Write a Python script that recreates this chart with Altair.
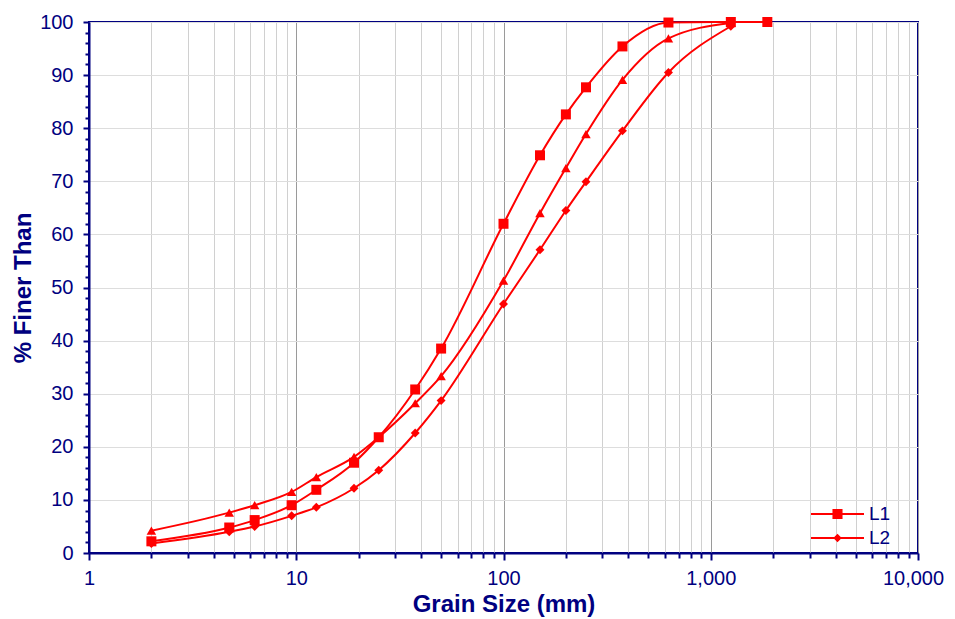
import altair as alt
import pandas as pd

NAVY = "#000080"
RED = "#FF0000"

sizes = [2.0, 4.75, 6.3, 9.5, 12.5, 19, 25, 37.5, 50, 100, 150, 200, 250, 375, 625, 1250, 1875]
l1 = [2.2, 4.8, 6.2, 9.0, 11.9, 17.0, 21.8, 30.8, 38.5, 62.0, 74.9, 82.6, 87.7, 95.4, 99.9, 100.0, 100.0]
mid = [4.2, 7.6, 9.0, 11.5, 14.3, 18.1, 21.8, 28.2, 33.3, 51.3, 64.0, 72.5, 78.9, 89.1, 96.9, 99.8]
l2 = [1.8, 4.0, 5.0, 7.0, 8.6, 12.2, 15.6, 22.6, 28.7, 46.9, 57.1, 64.5, 69.9, 79.5, 90.5, 99.2]

series_names = ["L1", "M", "L2"]
series_shapes = ["square", "triangle-up", "diamond"]
legend_names = ["L1", "L2"]
legend_paths = [
    "M-1,-0.04H1V0.04H-1Z M-0.19,-0.19H0.19V0.19H-0.19Z",
    "M-1,-0.04H1V0.04H-1Z M0,-0.16L0.16,0L0,0.16L-0.16,0Z",
]

x_mantissa = [1, 2, 3, 4, 5, 6, 7, 8, 9]
x_decades = [1, 10, 100, 1000]
x_ticks = [m * d for d in x_decades for m in x_mantissa] + [10000]
y_ticks = list(range(0, 101, 2))

rows = []
for name, vals in zip(series_names, [l1, mid, l2]):
    for s, v in zip(sizes, vals):
        rows.append({"size": s, "pct": v, "series": name})
df = pd.DataFrame(rows)

leg_df = pd.DataFrame({"series": legend_names, "size": [None, None], "pct": [None, None]})

decade = "abs(log(datum.value)/LN10 - round(log(datum.value)/LN10)) < 1e-6"

x_enc = alt.X(
    "size:Q",
    scale=alt.Scale(type="log", domain=[1, 10000]),
    axis=alt.Axis(
        values=x_ticks,
        tickCount=len(x_ticks),
        labelExpr=f"({decade}) ? format(datum.value, ',') : ''",
        labelOverlap=False,
        labelOffset={"condition": {"test": "datum.value >= 10000", "value": -5}, "value": 0},
        title="Grain Size (mm)",
        gridColor={"condition": {"test": decade, "value": "#9a9a9a"}, "value": "#d0d0d0"},
        tickSize={"condition": {"test": decade, "value": 7}, "value": 5},
    ),
)
y_enc = alt.Y(
    "pct:Q",
    scale=alt.Scale(domain=[0, 100]),
    axis=alt.Axis(
        values=y_ticks,
        tickCount=len(y_ticks),
        labelExpr="datum.value % 10 == 0 ? datum.label : ''",
        labelOverlap=False,
        title="% Finer Than",
        gridOpacity={"condition": {"test": "datum.value % 10 == 0", "value": 1}, "value": 0},
        tickSize={"condition": {"test": "datum.value % 10 == 0", "value": 6}, "value": 4},
    ),
)

lines = alt.Chart(df).mark_line(color=RED, strokeWidth=2, interpolate="monotone").encode(
    x=x_enc, y=y_enc, detail="series:N"
)
points = alt.Chart(df).mark_point(filled=True, opacity=1, color=RED).encode(
    x=x_enc,
    y=y_enc,
    shape=alt.Shape("series:N", scale=alt.Scale(domain=series_names, range=series_shapes), legend=None),
    size=alt.Size("series:N", scale=alt.Scale(domain=series_names, range=[100, 80, 60]), legend=None),
)
legend_layer = alt.Chart(leg_df).mark_point(filled=True, color=RED, opacity=1).encode(
    x=alt.X("size:Q", scale=alt.Scale(type="log", domain=[1, 10000])),
    y=alt.Y("pct:Q", scale=alt.Scale(domain=[0, 100])),
    shape=alt.Shape(
        "series:N",
        scale=alt.Scale(domain=legend_names, range=legend_paths),
        legend=alt.Legend(
            title=None,
            orient="none",
            legendX=722,
            legendY=480,
            symbolSize=2809,
            clipHeight=24,
            symbolFillColor=RED,
            symbolStrokeColor=RED,
            symbolStrokeWidth=0,
            symbolOpacity=1,
            labelFont="Liberation Sans",
            labelFontSize=19,
            labelColor=NAVY,
            rowPadding=0,
            labelOffset=5,
        ),
    ),
)

chart = (
    alt.layer(lines, points, legend_layer)
    .resolve_scale(shape="independent", size="independent")
    .properties(
        width=829,
        height=531,
        autosize=alt.AutoSizeParams(type="none"),
        padding={"left": 81, "top": 14, "right": 29, "bottom": 66},
    )
    .configure_view(stroke=NAVY, strokeWidth=2)
    .configure_axis(
        domainColor=NAVY,
        domainWidth=2,
        tickColor=NAVY,
        tickWidth=2,
        labelColor=NAVY,
        labelFont="Liberation Sans",
        labelFontSize=20,
        titleColor=NAVY,
        titleFont="Liberation Sans",
        titleFontSize=24,
        titleFontWeight="bold",
        gridWidth=1,
    )
    .configure_axisX(labelPadding=8, titlePadding=4, labelFlush=False)
    .configure_axisY(labelPadding=10, titlePadding=4, labelFlush=False)
)

chart.save("out.html", embed_options={"renderer": "svg", "actions": False})
